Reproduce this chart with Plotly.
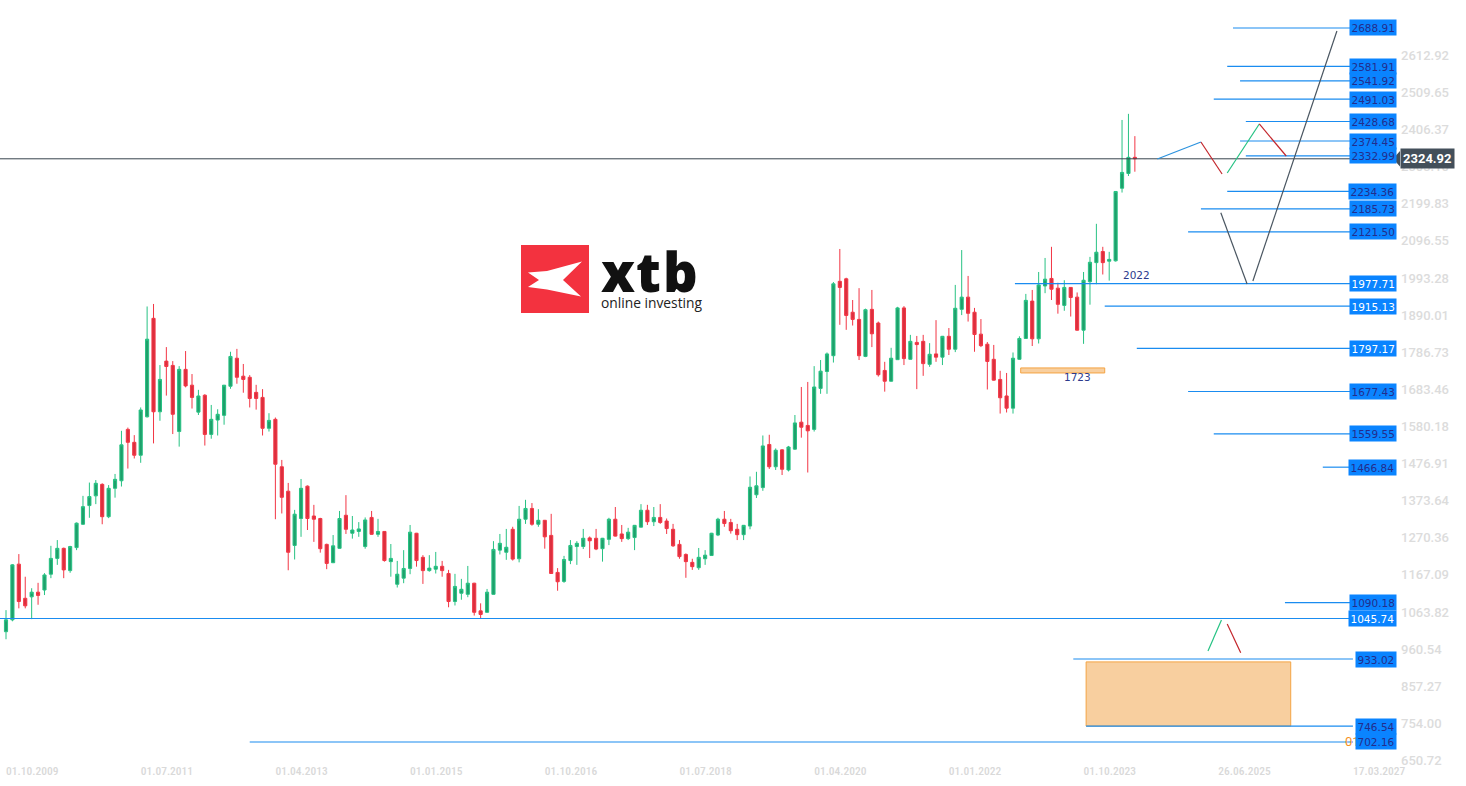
import plotly.graph_objects as go
import pandas as pd

# ---------------- data ----------------
months = pd.date_range("2009-10-01", periods=177, freq="MS").strftime("%d.%m.%Y").tolist()

opens = [1009,1042,1197,1102,1106,1119,1125,1169,1213,1241,
         1179,1243,1308,1360,1387,1419,1329,1408,1429,1572,
         1536,1500,1607,1881,1621,1762,1750,1566,1739,1695,
         1620,1667,1558,1598,1611,1692,1770,1720,1717,1675,
         1661,1575,1600,1468,1400,1249,1324,1414,1331,1324,
         1252,1201,1241,1333,1283,1288,1246,1327,1280,1288,
         1204,1141,1158,1185,1283,1216,1179,1183,1191,1171,
         1093,1116,1113,1144,1067,1063,1113,1236,1230,1294,
         1212,1322,1352,1308,1319,1277,1174,1149,1207,1246,
         1246,1270,1269,1240,1266,1322,1281,1268,1271,1300,
         1347,1315,1327,1317,1294,1252,1224,1202,1187,1212,
         1221,1278,1322,1313,1294,1279,1303,1390,1410,1530,
         1468,1515,1459,1517,1592,1583,1572,1686,1733,1777,
         1984,1991,1898,1878,1775,1906,1868,1736,1706,1766,
         1910,1767,1814,1817,1753,1782,1773,1831,1795,1906,
         1940,1898,1837,1809,1767,1711,1665,1631,1767,1825,
         1929,1824,1971,1992,1965,1917,1967,1940,1848,1983,
         2036,2067,2040,2041,2243,2284,2329]

highs = [1069,1197,1225,1162,1130,1145,1172,1248,1264,1243,
         1248,1313,1387,1424,1431,1422,1417,1448,1568,1577,
         1556,1633,1914,1921,1751,1801,1762,1748,1790,1726,
         1682,1670,1640,1628,1695,1788,1796,1754,1723,1696,
         1684,1617,1605,1487,1423,1348,1434,1416,1362,1326,
         1254,1278,1345,1389,1331,1314,1327,1345,1323,1289,
         1253,1206,1236,1306,1284,1222,1222,1231,1206,1181,
         1170,1156,1192,1145,1088,1128,1261,1281,1295,1301,
         1359,1376,1367,1350,1320,1337,1186,1220,1264,1261,
         1295,1274,1295,1270,1326,1356,1306,1298,1306,1364,
         1362,1356,1364,1324,1309,1264,1227,1212,1242,1236,
         1284,1326,1345,1323,1309,1306,1441,1454,1555,1557,
         1519,1517,1526,1612,1690,1704,1748,1765,1786,1982,
         2074,1994,1932,1965,1908,1960,1872,1760,1799,1913,
         1915,1835,1832,1835,1812,1876,1832,1854,1974,2071,
         1999,1910,1879,1815,1807,1735,1729,1786,1831,1949,
         1960,2010,2049,2080,1980,1987,1968,1953,2010,2052,
         2144,2080,2066,2235,2433,2450,2388]

lows = [988,1038,1074,1074,1044,1084,1111,1158,1195,1158,
        1173,1236,1306,1326,1364,1308,1325,1382,1413,1463,
        1491,1479,1605,1533,1596,1666,1559,1524,1689,1630,
        1612,1527,1546,1555,1585,1685,1699,1674,1633,1627,
        1555,1566,1322,1338,1180,1210,1273,1292,1259,1229,
        1183,1200,1240,1281,1268,1273,1240,1279,1273,1204,
        1162,1132,1144,1169,1190,1142,1176,1171,1162,1077,
        1082,1098,1105,1054,1045,1062,1112,1224,1209,1207,
        1202,1309,1304,1301,1240,1170,1123,1145,1197,1195,
        1239,1214,1236,1204,1250,1274,1259,1264,1236,1299,
        1306,1303,1309,1281,1245,1212,1159,1181,1181,1195,
        1220,1275,1301,1282,1264,1264,1294,1381,1401,1462,
        1459,1445,1455,1515,1549,1452,1566,1671,1671,1758,
        1863,1849,1861,1765,1773,1801,1719,1677,1705,1766,
        1751,1766,1684,1721,1746,1760,1751,1779,1787,1890,
        1872,1788,1801,1683,1708,1616,1619,1616,1766,1824,
        1804,1811,1951,1932,1894,1902,1886,1847,1810,1919,
        1976,2003,1986,2039,2231,2277,2289]

closes = [1042,1195,1093,1081,1119,1110,1167,1213,1241,1181,
          1246,1311,1357,1385,1422,1329,1408,1433,1529,1536,
          1500,1626,1823,1621,1711,1747,1614,1739,1693,1661,
          1665,1558,1600,1614,1695,1775,1717,1711,1658,1658,
          1575,1597,1475,1383,1230,1336,1408,1324,1322,1240,
          1199,1248,1324,1294,1292,1295,1320,1280,1288,1207,
          1213,1169,1185,1286,1207,1179,1186,1191,1179,1093,
          1135,1127,1144,1063,1057,1119,1238,1255,1244,1211,
          1322,1352,1308,1319,1273,1171,1148,1210,1249,1255,
          1269,1262,1239,1269,1322,1275,1268,1286,1305,1347,
          1315,1327,1313,1296,1248,1218,1204,1190,1216,1222,
          1283,1322,1310,1290,1279,1305,1411,1415,1526,1468,
          1514,1461,1523,1590,1578,1568,1690,1734,1782,1977,
          1967,1889,1878,1777,1905,1838,1724,1706,1770,1910,
          1769,1817,1808,1755,1781,1773,1831,1795,1909,1940,
          1895,1836,1805,1761,1709,1660,1631,1770,1825,1931,
          1824,1974,1990,1962,1920,1967,1939,1848,1987,2037,
          2065,2036,2045,2234,2287,2329,2325]

current_price = 2324.92

x_tick_bars = [0, 21, 42, 63, 84, 105, 126, 147, 168, 189, 210]
x_tick_labels = ["01.10.2009", "01.07.2011", "01.04.2013", "01.01.2015", "01.10.2016",
                 "01.07.2018", "01.04.2020", "01.01.2022", "01.10.2023", "26.06.2025", "17.03.2027"]

y_ticks = [650.72, 754.00, 857.27, 960.54, 1063.82, 1167.09, 1270.36, 1373.64, 1476.91,
           1580.18, 1683.46, 1786.73, 1890.01, 1993.28, 2096.55, 2199.83, 2303.10,
           2406.37, 2509.65, 2612.92]

# horizontal levels (price, starting bar)
levels = [2688.91, 2581.91, 2541.92, 2491.03, 2428.68, 2374.45, 2332.99, 2234.36, 2185.73,
          2121.50, 1977.71, 1915.13, 1797.17, 1677.43, 1559.55, 1466.84, 1090.18, 1045.74,
          933.02, 746.54, 702.16]
level_start = [191.3, 190.4, 192.4, 188.3, 193.3, 192.4, 193.3, 190.4, 186.3,
               184.3, 157.3, 171.3, 176.3, 184.3, 188.3, 205.3, 199.4, -1.0,
               166.4, 168.4, 38.0]
white_levels = [1977.71, 1915.13, 1797.17, 1045.74]

# drawn projection segments: (bar0, price0, bar1, price1, colour)
segments = [
    (179.5, 2324.4, 186.3, 2371.7, "#2b92de"),
    (186.3, 2371.7, 189.6, 2282.6, "#c3262c"),
    (190.4, 2285.4, 195.4, 2421.8, "#25c283"),
    (195.4, 2421.8, 199.6, 2332.7, "#c3262c"),
    (189.4, 2175.0, 193.5, 1976.5, "#4a5661"),
    (194.4, 1984.9, 207.5, 2680.5, "#4a5661"),
    (187.4, 955.3, 189.5, 1041.6, "#25c283"),
    (190.4, 1030.5, 192.5, 950.6, "#c3262c"),
]

# zones: (bar0, bar1, price_low, price_high)
zones = [(168.4, 200.3, 746.5, 925.0), (158.2, 171.3, 1729.0, 1743.0)]
zone_texts = [(176.2, 2001.0, "2022"), (167.1, 1718.0, "1723")]

# ---------------- figure ----------------
W, H = 1466, 786
ML, MR, MT, MB = 0, 66, 0, 24
PW, PH = W - ML - MR, H - MT - MB

def px(x, y):
    return x / PW, 1 - y / PH

fig = go.Figure()
fig.add_trace(go.Candlestick(
    x=list(range(len(opens))), open=opens, high=highs, low=lows, close=closes,
    text=months, hoverinfo="skip",
    increasing=dict(line=dict(color="#27c283", width=1), fillcolor="#1f9f6b"),
    decreasing=dict(line=dict(color="#f23645", width=1), fillcolor="#dc2f3e"),
    whiskerwidth=0, showlegend=False,
))

shapes = []
annotations = []

# current price line
shapes.append(dict(type="line", xref="paper", yref="y", x0=0, x1=1, y0=current_price,
                   y1=current_price, line=dict(color="#37434e", width=1)))

# zones
for b0, b1, lo, hi in zones:
    shapes.append(dict(type="rect", xref="x", yref="y", x0=b0, x1=b1, y0=lo, y1=hi,
                       fillcolor="#f8cf9f", line=dict(color="#f4a443", width=1)))

# levels
for lvl, st in zip(levels, level_start):
    shapes.append(dict(type="line", xref="x", yref="y", x0=st, x1=210, y0=lvl, y1=lvl,
                       line=dict(color="#1a8cf0", width=1.2)))

# segments
for b0, p0, b1, p1, c in segments:
    shapes.append(dict(type="line", xref="x", yref="y", x0=b0, y0=p0, x1=b1, y1=p1,
                       line=dict(color=c, width=1.2)))

# logo
lx0, ly0 = px(521, 245)
lx1, ly1 = px(589, 313)
shapes.append(dict(type="rect", xref="paper", yref="paper", x0=lx0, x1=lx1, y0=ly1, y1=ly0,
                   fillcolor="#f3323f", line=dict(width=0)))
xpts = [(528, 272.5), (547, 271), (582, 261.5), (563, 280), (581, 296.5),
        (547, 289.5), (528, 287), (539, 280)]
path = "M " + " L ".join("%.5f,%.5f" % px(a, b) for a, b in xpts) + " Z"
shapes.append(dict(type="path", xref="paper", yref="paper", path=path,
                   fillcolor="white", line=dict(width=0)))
# price tag pointer
tp = [(1393, 158.8), (1400, 151), (1400, 166.6)]
shapes.append(dict(type="path", xref="paper", yref="paper",
                   path="M " + " L ".join("%.5f,%.5f" % px(a, b) for a, b in tp) + " Z",
                   fillcolor="#434f5a", line=dict(width=0)))

for letter, lxp in [("x", 599), ("t", 634), ("b", 661)]:
    annotations.append(dict(xref="paper", yref="paper", x=px(lxp, 0)[0], y=px(0, 271)[1],
                            text=letter, showarrow=False, xanchor="left", yanchor="middle",
                            font=dict(family="Open Sans", size=54, color="#111111", weight=800)))
annotations.append(dict(xref="paper", yref="paper", x=px(599, 0)[0], y=px(0, 302)[1],
                        text="online investing", showarrow=False, xanchor="left", yanchor="middle",
                        font=dict(family="Open Sans", size=13.8, color="#222222")))

# zone texts
for b, p, t in zone_texts:
    annotations.append(dict(xref="x", yref="y", x=b, y=p, text=t, showarrow=False,
                            font=dict(family="DejaVu Sans", size=10.5, color="#2d3a8c")))

# hidden orange label
annotations.append(dict(xref="paper", yref="y", x=px(1343, 0)[0], y=702.16, text="01",
                        showarrow=False, xanchor="left", yanchor="middle",
                        font=dict(family="Roboto", size=13, color="#f7931e")))

# level tags
for lvl in levels:
    col = "white" if lvl in white_levels else "#232d8c"
    annotations.append(dict(xref="paper", yref="y", x=px(1397, 0)[0], y=lvl,
                            text="%.2f" % lvl, showarrow=False, xanchor="right", yanchor="middle",
                            bgcolor="#0a84ff", borderpad=1.5,
                            font=dict(family="DejaVu Sans", size=10.5, color=col)))

# current price tag
annotations.append(dict(xref="paper", yref="y", x=1.0, y=current_price,
                        text="<b>%.2f</b>" % current_price, showarrow=False,
                        xanchor="left", yanchor="middle", bgcolor="#434f5a", borderpad=2,
                        font=dict(family="Roboto", size=13, color="white")))

ymax = 2766.8
ymin = ymax - 2.7826 * PH
xmin = -6 / 6.414
xmax = (PW - 6) / 6.414

fig.update_layout(
    width=W, height=H,
    margin=dict(l=ML, r=MR, t=MT, b=MB, pad=0),
    paper_bgcolor="white", plot_bgcolor="white",
    shapes=shapes, annotations=annotations,
    hovermode=False, showlegend=False,
    xaxis=dict(range=[xmin, xmax], tickvals=x_tick_bars, ticktext=x_tick_labels,
               ticklabelposition="outside right", showgrid=False, zeroline=False,
               showline=False, ticks="", rangeslider=dict(visible=False),
               tickfont=dict(family="Roboto Condensed, DejaVu Sans Condensed, Roboto",
                             size=11.5, color="#d9d9d9", weight=500)),
    yaxis=dict(range=[ymin, ymax], side="right", tickvals=y_ticks,
               ticktext=["%.2f" % v for v in y_ticks], showgrid=False, zeroline=False,
               showline=False, ticks="",
               tickfont=dict(family="Roboto", size=13, color="#dcdcdc", weight=500)),
)

fig.write_html("out.html", config={"displayModeBar": False},
               post_script="document.body.style.margin='0';")
